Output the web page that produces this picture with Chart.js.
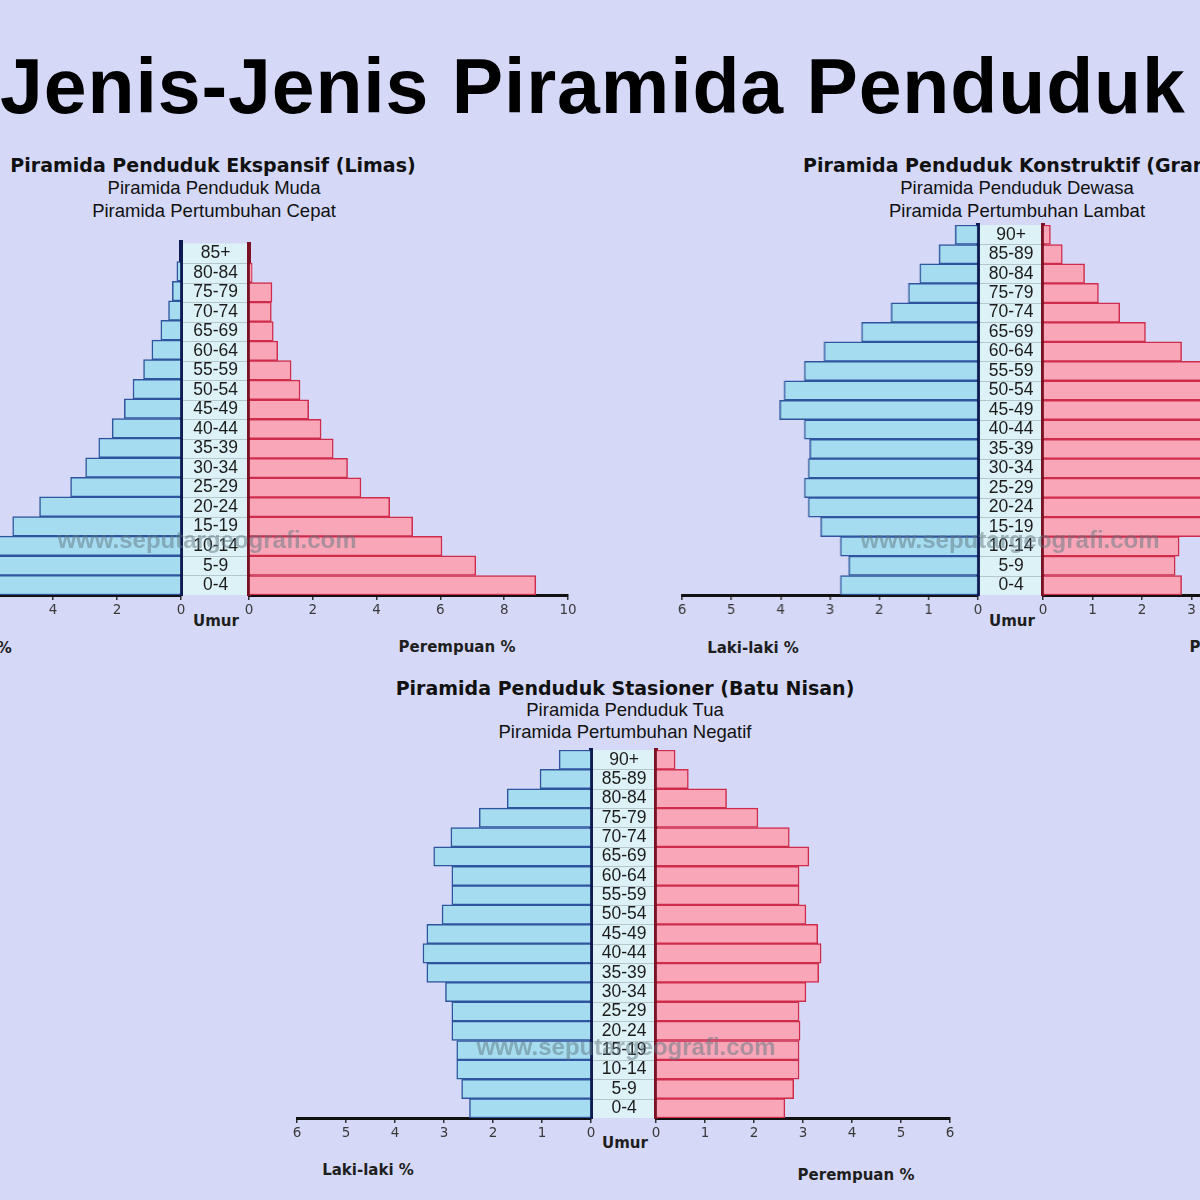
<!DOCTYPE html>
<html>
<head>
<meta charset="utf-8">
<script src="https://cdn.jsdelivr.net/npm/chart.js@4.4.1/dist/chart.umd.min.js"></script>
<style>
body{margin:0;width:1200px;height:1200px;overflow:hidden;background:#d5d9f7;position:relative;font-family:"Liberation Sans",Arial,sans-serif;}
.t{position:absolute;white-space:nowrap;transform:translate(-50%,-50%);line-height:1;color:#111;}
.h{font-family:"DejaVu Sans",Verdana,sans-serif;font-weight:bold;font-size:19px;}
.s{font-size:18.5px;}
.ax{font-family:"DejaVu Sans",Verdana,sans-serif;font-weight:bold;font-size:15px;color:#1e1e1e;}
.wm{font-weight:bold;font-size:24px;color:rgba(95,120,130,0.5);z-index:5;}
canvas{position:absolute;}
#title{position:absolute;left:0;top:48px;font-weight:bold;font-size:77px;line-height:1;white-space:nowrap;color:#000;letter-spacing:0.9px;}
</style>
</head>
<body>
<div id="title">Jenis-Jenis Piramida Penduduk</div>

<div class="t h" style="left:213px;top:165px">Piramida Penduduk Ekspansif (Limas)</div>
<div class="t s" style="left:214px;top:188px">Piramida Penduduk Muda</div>
<div class="t s" style="left:214px;top:211px">Piramida Pertumbuhan Cepat</div>

<div class="t h" style="left:1020px;top:165px">Piramida Penduduk Konstruktif (Granat)</div>
<div class="t s" style="left:1017px;top:188px">Piramida Penduduk Dewasa</div>
<div class="t s" style="left:1017px;top:211px">Piramida Pertumbuhan Lambat</div>

<div class="t h" style="left:625px;top:688px">Piramida Penduduk Stasioner (Batu Nisan)</div>
<div class="t s" style="left:625px;top:710px">Piramida Penduduk Tua</div>
<div class="t s" style="left:625px;top:732px">Piramida Pertumbuhan Negatif</div>

<div class="t ax" style="left:216px;top:621px">Umur</div>
<div class="t ax" style="left:-34px;top:648px">Laki-laki %</div>
<div class="t ax" style="left:457px;top:647px">Perempuan %</div>

<div class="t ax" style="left:1012px;top:621px">Umur</div>
<div class="t ax" style="left:753px;top:648px">Laki-laki %</div>
<div class="t ax" style="left:1248px;top:647px">Perempuan %</div>

<div class="t ax" style="left:625px;top:1143px">Umur</div>
<div class="t ax" style="left:368px;top:1170px">Laki-laki %</div>
<div class="t ax" style="left:856px;top:1175px">Perempuan %</div>

<div class="t wm" style="left:207px;top:540px">www.seputargeografi.com</div>
<div class="t wm" style="left:1010px;top:540px">www.seputargeografi.com</div>
<div class="t wm" style="left:626px;top:1047px">www.seputargeografi.com</div>

<script>
// umur dari muda ke tua (sumbu y dibalik supaya 0-4 di bawah)
var umur18 = ['0-4','5-9','10-14','15-19','20-24','25-29','30-34','35-39','40-44','45-49','50-54','55-59','60-64','65-69','70-74','75-79','80-84','85+'];
var umur19 = ['0-4','5-9','10-14','15-19','20-24','25-29','30-34','35-39','40-44','45-49','50-54','55-59','60-64','65-69','70-74','75-79','80-84','85-89','90+'];

// ekspansif (limas)
var ekspLaki = [9.0, 7.2, 6.2, 5.26, 4.42, 3.45, 2.98, 2.57, 2.15, 1.77, 1.50, 1.17, 0.91, 0.63, 0.39, 0.27, 0.13, 0];
var ekspPerempuan = [8.99, 7.11, 6.05, 5.13, 4.41, 3.51, 3.09, 2.64, 2.26, 1.87, 1.60, 1.32, 0.90, 0.76, 0.70, 0.72, 0.10, 0];

// konstruktif (granat)
var konsLaki = [2.79, 2.62, 2.79, 3.19, 3.44, 3.52, 3.44, 3.41, 3.52, 4.02, 3.93, 3.52, 3.12, 2.36, 1.76, 1.41, 1.18, 0.79, 0.46];
var konsPerempuan = [2.80, 2.67, 2.75, 3.25, 3.45, 3.55, 3.45, 3.45, 3.55, 4.0, 3.9, 3.5, 2.80, 2.07, 1.55, 1.12, 0.84, 0.39, 0.15];

// stasioner (batu nisan)
var stasLaki = [2.48, 2.64, 2.74, 2.74, 2.84, 2.84, 2.97, 3.35, 3.43, 3.35, 3.04, 2.84, 2.84, 3.21, 2.86, 2.28, 1.71, 1.04, 0.65];
var stasPerempuan = [2.63, 2.81, 2.92, 2.92, 2.94, 2.92, 3.06, 3.32, 3.37, 3.30, 3.06, 2.92, 2.92, 3.12, 2.72, 2.08, 1.44, 0.66, 0.39];

var P = 20;   // padding canvas
var XH = 50;  // tinggi sumbu x
var tickFont = {family: 'DejaVu Sans', size: 13.5};

var kolomUmur = {
  id: 'kolomUmur',
  beforeDraw: function(chart) {
    var y = chart.scales.y, ctx = chart.ctx;
    ctx.save();
    ctx.fillStyle = '#ddf2f7';
    ctx.fillRect(y.left, y.top, y.width, y.height);
    ctx.strokeStyle = '#b4c7cd';
    ctx.lineWidth = 1;
    for (var i = 1; i < y.ticks.length; i++) {
      var yy = Math.round((y.getPixelForValue(i - 1) + y.getPixelForValue(i)) / 2) + 0.5;
      ctx.beginPath();
      ctx.moveTo(y.left, yy);
      ctx.lineTo(y.right, yy);
      ctx.stroke();
    }
    ctx.restore();
  }
};

function bikinCanvas(left, top, w, h) {
  var c = document.createElement('canvas');
  c.width = w; c.height = h;
  c.style.left = left + 'px';
  c.style.top = top + 'px';
  c.style.width = w + 'px';
  c.style.height = h + 'px';
  document.body.appendChild(c);
  return c.getContext('2d');
}

function xAxis(max, step, reverse) {
  return {
    type: 'linear', min: 0, max: max, reverse: reverse,
    ticks: {stepSize: step, autoSkip: false, color: '#3a3a3a', font: tickFont, padding: 2, maxRotation: 0},
    grid: {drawOnChartArea: false, drawTicks: true, tickLength: 5, color: '#333', lineWidth: 1.5},
    border: {display: true, color: '#111', width: 3},
    afterFit: function(s) { s.height = XH; }
  };
}

function piramida(o) {
  var h = o.bottom - o.top;
  var gap = o.fZero - o.mZero;
  var mW = o.mUnit * o.mMax;
  var fW = o.fUnit * o.fMax;

  // perempuan dulu (kolom umur ada di sumbu y-nya)
  var ctxF = bikinCanvas(o.mZero - P, o.top - P, P + gap + fW + P, P + h + XH);
  new Chart(ctxF, {
    type: 'bar',
    data: {labels: o.labels, datasets: [{
      data: o.female, backgroundColor: '#f9a7b8', borderColor: '#cf2c4c', borderWidth: 1.5,
      categoryPercentage: 1, barPercentage: 1
    }]},
    options: {
      indexAxis: 'y', responsive: false, animation: false, devicePixelRatio: 1,
      layout: {padding: {left: P, right: P, top: P, bottom: 0}},
      plugins: {legend: {display: false}, tooltip: {enabled: false}},
      scales: {
        x: xAxis(o.fMax, o.step, false),
        y: {
          position: 'left', reverse: true,
          ticks: {autoSkip: false, crossAlign: 'center', padding: (gap - 46) / 2, color: '#1c1c1c', font: {family: 'Liberation Sans', size: 17.5}},
          grid: {display: false, drawTicks: false},
          border: {display: true, color: '#7a1224', width: 4},
          afterFit: function(s) { s.width = gap; }
        }
      }
    },
    plugins: [kolomUmur]
  });

  var ctxM = bikinCanvas(o.mZero - mW - P, o.top - P, P + mW + 4 + P, P + h + XH);
  new Chart(ctxM, {
    type: 'bar',
    data: {labels: o.labels, datasets: [{
      data: o.male, backgroundColor: '#a6dcef', borderColor: '#2f559e', borderWidth: 1.5,
      categoryPercentage: 1, barPercentage: 1
    }]},
    options: {
      indexAxis: 'y', responsive: false, animation: false, devicePixelRatio: 1,
      layout: {padding: {left: P, right: P, top: P, bottom: 0}},
      plugins: {legend: {display: false}, tooltip: {enabled: false}},
      scales: {
        x: xAxis(o.mMax, o.step, true),
        y: {
          position: 'right', reverse: true,
          ticks: {display: false},
          grid: {display: false, drawTicks: false},
          border: {display: true, color: '#0e1a52', width: 4},
          afterFit: function(s) { s.width = 4; }
        }
      }
    }
  });
}

piramida({labels: umur18, male: ekspLaki, female: ekspPerempuan,
  mZero: 181, mUnit: 32, mMax: 10, fZero: 249, fUnit: 31.9, fMax: 10, step: 2, top: 242, bottom: 595});
piramida({labels: umur19, male: konsLaki, female: konsPerempuan,
  mZero: 978, mUnit: 49.3, mMax: 6, fZero: 1043, fUnit: 49.5, fMax: 6, step: 1, top: 225, bottom: 595});
piramida({labels: umur19, male: stasLaki, female: stasPerempuan,
  mZero: 591, mUnit: 49, mMax: 6, fZero: 656, fUnit: 49, fMax: 6, step: 1, top: 750, bottom: 1118});
</script>
</body>
</html>
